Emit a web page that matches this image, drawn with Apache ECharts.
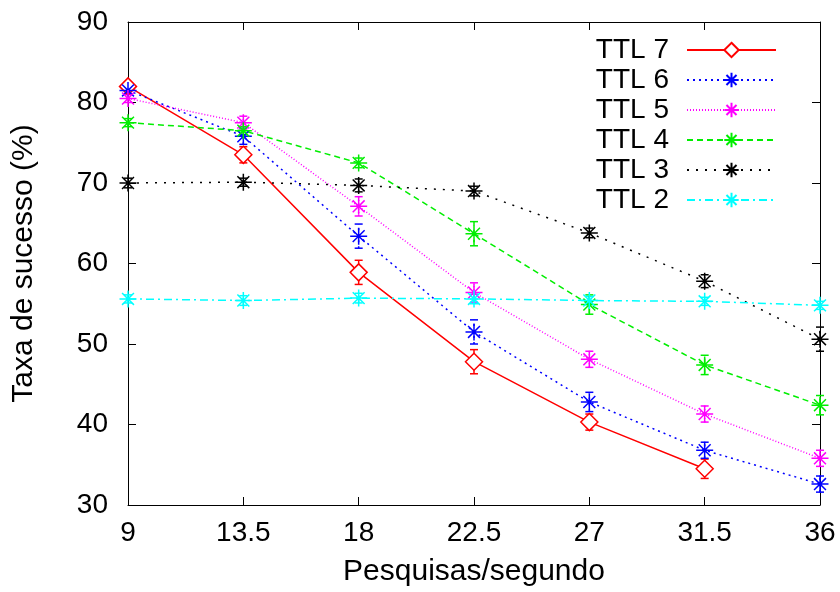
<!DOCTYPE html>
<html>
<head>
<meta charset="utf-8">
<script src="https://cdn.jsdelivr.net/npm/echarts@6/dist/echarts.min.js"></script>
<style>
  html, body { margin: 0; padding: 0; background: #fff; }
  #chart { width: 840px; height: 592px; }
</style>
</head>
<body>
<div id="chart"></div>
<script>
// pesquisas por segundo
const xValues = [9, 13.5, 18, 22.5, 27, 31.5, 36]

// taxa de sucesso (%) por TTL
const ttl7 = [82.0, 73.5, 58.9, 47.8, 40.3, 34.5]
const ttl6 = [81.5, 75.8, 63.4, 51.5, 42.8, 36.8, 32.6]
const ttl5 = [80.5, 77.5, 67.1, 56.4, 48.1, 41.3, 35.8]
const ttl4 = [77.5, 76.5, 72.5, 63.7, 54.9, 47.4, 42.4]
const ttl3 = [70.0, 70.1, 69.7, 69.0, 63.8, 57.8, 50.6]
const ttl2 = [55.6, 55.4, 55.7, 55.6, 55.4, 55.3, 54.8]

// meia amplitude das barras de erro
const err7 = [0.5, 1.0, 1.5, 1.5, 1.0, 1.2]
const err6 = [0.5, 1.0, 1.5, 1.5, 1.2, 1.0, 1.0]
const err5 = [0.5, 0.8, 1.2, 1.2, 1.0, 1.0, 1.0]
const err4 = [0.5, 0.5, 0.6, 1.5, 1.2, 1.2, 1.2]
const err3 = [0.6, 0.5, 0.8, 0.6, 0.6, 0.8, 1.5]
const err2 = [0.5, 0.6, 0.6, 0.6, 0.5, 0.5, 0.5]

const FONT = 'Liberation Sans'
const STAR = 'path://M0,-10L0,10M-10,0L10,0M-7,-7L7,7M-7,7L7,-7'

const seriesDefs = [
  {name: 'TTL 7', vals: ttl7, err: err7, color: '#ff0000', dash: 'solid', symbol: 'diamond', size: 17},
  {name: 'TTL 6', vals: ttl6, err: err6, color: '#0000ff', dash: [2, 4], symbol: STAR, size: 17},
  {name: 'TTL 5', vals: ttl5, err: err5, color: '#ff00ff', dash: [1, 2], symbol: STAR, size: 17},
  {name: 'TTL 4', vals: ttl4, err: err4, color: '#00ee00', dash: [6, 4], symbol: STAR, size: 17},
  {name: 'TTL 3', vals: ttl3, err: err3, color: '#000000', dash: [2, 7], symbol: STAR, size: 17},
  {name: 'TTL 2', vals: ttl2, err: err2, color: '#00ffff', dash: [8, 4, 2, 4], symbol: STAR, size: 17},
]

function errorBarRender(color, dash) {
  return function (params, api) {
    const x = api.value(0)
    const p1 = api.coord([x, api.value(1)])
    const p2 = api.coord([x, api.value(2)])
    const w = 4
    const style = {stroke: color, lineWidth: 1.5}
    return {
      type: 'group',
      children: [
        {type: 'line', shape: {x1: p1[0], y1: p1[1], x2: p2[0], y2: p2[1]}, style: Object.assign({lineDash: dash === 'solid' ? null : dash}, style)},
        {type: 'line', shape: {x1: p1[0] - w, y1: p1[1], x2: p1[0] + w, y2: p1[1]}, style: style},
        {type: 'line', shape: {x1: p2[0] - w, y1: p2[1], x2: p2[0] + w, y2: p2[1]}, style: style},
      ],
    }
  }
}

const series = []
seriesDefs.forEach(d => {
  series.push({
    name: d.name,
    type: 'line',
    data: d.vals.map((v, i) => [xValues[i], v]),
    symbol: d.symbol,
    symbolSize: d.size,
    showSymbol: true,
    lineStyle: {color: d.color, width: 1.5, type: d.dash},
    itemStyle: {color: d.symbol === 'diamond' ? '#fff' : d.color, borderColor: d.color, borderWidth: 1.5},
    emphasis: {disabled: true},
    animation: false,
    z: 3,
  })
  series.push({
    name: d.name + ' err',
    type: 'custom',
    renderItem: errorBarRender(d.color, d.dash),
    data: d.vals.map((v, i) => [xValues[i], v - d.err[i], v + d.err[i]]),
    animation: false,
    silent: true,
    z: 2,
  })
})

const axisLabelStyle = {fontFamily: FONT, fontSize: 28, color: '#000'}
const axisNameStyle = {fontFamily: FONT, fontSize: 30, color: '#000'}
const lineBlack = {show: true, lineStyle: {color: '#000', width: 1}}
const tickIn = {show: true, inside: true, length: 8, lineStyle: {color: '#000'}}

const option = {
  backgroundColor: '#fff',
  animation: false,
  grid: {left: 128, right: 20, top: 22, bottom: 84},
  legend: {
    data: seriesDefs.map(d => d.name),
    orient: 'vertical',
    right: 58,
    top: 31,
    align: 'right',
    itemWidth: 89,
    itemHeight: 18,
    itemGap: 2,
    textStyle: {fontFamily: FONT, fontSize: 28, color: '#000', padding: [0, 13, 0, 0]},
    selectedMode: false,
  },
  xAxis: [
    {
      type: 'value', min: 9, max: 36, interval: 4.5,
      name: 'Pesquisas/segundo', nameLocation: 'middle', nameGap: 52,
      nameTextStyle: axisNameStyle,
      axisLine: lineBlack,
      axisTick: tickIn,
      axisLabel: Object.assign({margin: 14}, axisLabelStyle),
      splitLine: {show: false},
    },
    {
      type: 'value', position: 'top', min: 9, max: 36, interval: 4.5,
      axisLine: lineBlack,
      axisTick: tickIn,
      axisLabel: {show: false},
      splitLine: {show: false},
    },
  ],
  yAxis: [
    {
      type: 'value', min: 30, max: 90, interval: 10,
      name: 'Taxa de sucesso (%)', nameLocation: 'middle', nameGap: 89, nameRotate: 90,
      nameTextStyle: axisNameStyle,
      axisLine: lineBlack,
      axisTick: tickIn,
      axisLabel: Object.assign({margin: 20}, axisLabelStyle),
      splitLine: {show: false},
    },
    {
      type: 'value', position: 'right', min: 30, max: 90, interval: 10,
      axisLine: lineBlack,
      axisTick: tickIn,
      axisLabel: {show: false},
      splitLine: {show: false},
    },
  ],
  series: series,
}

const chart = echarts.init(document.getElementById('chart'), null, {renderer: 'canvas'})
chart.setOption(option)
</script>
</body>
</html>
